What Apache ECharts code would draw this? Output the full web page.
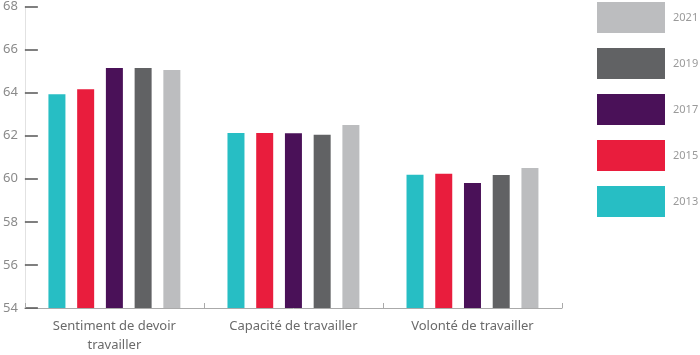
<!DOCTYPE html>
<html><head><meta charset="utf-8">
<script src="https://cdn.jsdelivr.net/npm/echarts@6/dist/echarts.min.js"></script>
<style>html,body{margin:0;padding:0;background:#fff}#c{width:700px;height:355px}</style>
</head><body><div id="c"></div>
<script>
const categories = ['Sentiment de devoir\ntravailler', 'Capacité de travailler', 'Volonté de travailler'];
const years = ['2013', '2015', '2017', '2019', '2021'];
const v2013 = [63.92, 62.13, 60.19];
const v2015 = [64.16, 62.13, 60.23];
const v2017 = [65.14, 62.12, 59.81];
const v2019 = [65.14, 62.04, 60.17];
const v2021 = [65.05, 62.50, 60.50];
const colors = ['#27bec4', '#e91d3d', '#4a1158', '#616264', '#bcbdbf'];
const seriesValues = [v2013, v2015, v2017, v2019, v2021];
const font = 'Noto Sans';

const chart = echarts.init(document.getElementById('c'));
chart.setOption({
  animation: false,
  textStyle: { fontFamily: font },
  grid: { left: 23, right: 138, top: 2, bottom: 43, containLabel: false },
  legend: {
    orient: 'vertical', left: 597, top: 2, padding: 0,
    itemWidth: 68, itemHeight: 31, itemGap: 15,
    icon: 'rect',
    data: ['2021', '2019', '2017', '2015', '2013'],
    textStyle: { color: '#9a9a9a', fontSize: 11, fontFamily: font, padding: [12, 0, 0, 3] }
  },
  xAxis: {
    type: 'category', data: categories,
    axisLine: { lineStyle: { color: '#aaaaaa' } },
    axisTick: { show: true, inside: true, length: 5, lineStyle: { color: '#aaaaaa' } },
    axisLabel: { color: '#6a6a6a', fontSize: 13, fontFamily: font, margin: 9, lineHeight: 19 }
  },
  yAxis: {
    type: 'value', min: 54, max: 68, interval: 2,
    axisLine: { show: true, lineStyle: { color: '#e2e2e2' } },
    axisTick: { show: true, inside: true, length: 13, lineStyle: { color: '#555555', width: 1.5 } },
    splitLine: { show: false },
    axisLabel: { color: '#8a8a8a', fontSize: 13, fontFamily: font, margin: 7 }
  },
  series: years.map((y, i) => ({
    name: y, type: 'bar', data: seriesValues[i],
    barWidth: 17, barGap: '69%',
    itemStyle: { color: colors[i] }
  }))
});
</script></body></html>
